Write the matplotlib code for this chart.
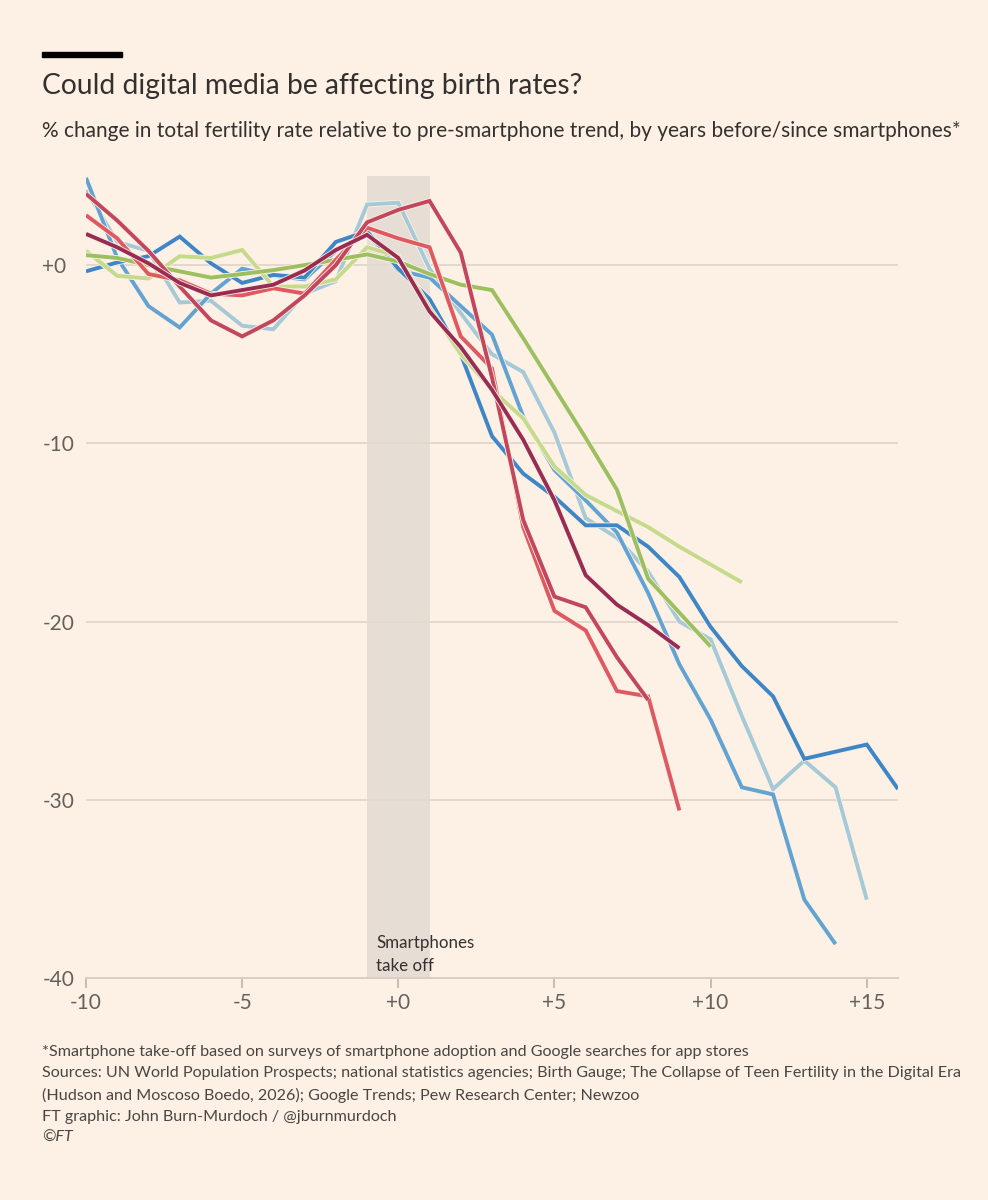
import matplotlib
matplotlib.use("Agg")
import matplotlib.pyplot as plt
import matplotlib.patheffects as pe
from matplotlib.patches import Rectangle

# years before/since smartphone take-off
years = list(range(-10, 17))

# % change in TFR vs pre-smartphone trend
dark_blue = [-0.35, 0.15, 0.5, 1.6, 0.1, -1.0, -0.55, -0.7, 1.3, 1.9, -0.2, -1.9, -5.0, -9.6,
             -11.7, -13.0, -14.6, -14.6, -15.8, -17.5, -20.3, -22.5, -24.2, -27.7, -27.3, -26.9, -29.4]
medium_blue = [4.9, 0.4, -2.3, -3.5, -1.6, -0.2, -0.6, -0.8, 0.8, 1.8, -0.3, -0.7, -2.3, -3.9,
               -8.5, -11.5, -13.2, -15.0, -18.4, -22.4, -25.5, -29.3, -29.7, -35.6, -38.1]
light_blue = [4.2, 1.3, 0.8, -2.1, -2.0, -3.4, -3.6, -1.6, -0.9, 3.4, 3.5, -0.2, -2.7, -5.0,
              -6.0, -9.4, -14.2, -15.3, -17.2, -20.0, -21.0, -25.3, -29.4, -27.8, -29.3, -35.6]
dark_green = [0.56, 0.4, 0.0, -0.35, -0.7, -0.5, -0.28, 0.0, 0.3, 0.6, 0.2, -0.5, -1.1, -1.4,
              -4.1, -6.9, -9.7, -12.6, -17.6, -19.5, -21.4]
light_green = [0.8, -0.6, -0.75, 0.5, 0.4, 0.85, -1.2, -1.2, -0.8, 1.0, 0.5, -2.4, -5.0, -7.0,
               -8.6, -11.3, -12.9, -13.8, -14.7, -15.8, -16.8, -17.8]
coral = [2.8, 1.5, -0.5, -0.85, -1.6, -1.7, -1.3, -1.6, 0.3, 2.1, 1.5, 1.0, -4.0, -5.8,
         -14.7, -19.4, -20.5, -23.9, -24.2, -30.6]
crimson = [4.0, 2.5, 0.8, -1.2, -3.1, -4.0, -3.1, -1.7, 0.0, 2.4, 3.1, 3.6, 0.7, -6.3,
           -14.3, -18.6, -19.2, -22.0, -24.4]
maroon = [1.75, 1.0, 0.1, -1.0, -1.7, -1.4, -1.1, -0.3, 0.85, 1.7, 0.4, -2.6, -4.6, -7.0,
          -9.8, -13.2, -17.4, -19.05, -20.2, -21.5]

series = [
    (light_blue, "#a5c9d6"),
    (medium_blue, "#62a3d2"),
    (dark_blue, "#3f86c7"),
    (light_green, "#c6da8c"),
    (dark_green, "#9cbf5f"),
    (coral, "#df5a60"),
    (crimson, "#c2475c"),
    (maroon, "#992c53"),
]

x_ticks = [-10, -5, 0, 5, 10, 15]
x_tick_labels = ["-10", "-5", "+0", "+5", "+10", "+15"]
y_ticks = [0, -10, -20, -30, -40]
y_tick_labels = ["+0", "-10", "-20", "-30", "-40"]

bg = "#fdf1e6"
text_dark = "#33302e"
text_grey = "#66605c"

plt.rcParams["font.family"] = ["Lato", "DejaVu Sans"]

fig = plt.figure(figsize=(9.88, 12), dpi=100, facecolor=bg)
ax = fig.add_axes([86 / 988, 1 - 978 / 1200, 812 / 988, 802 / 1200])
ax.set_facecolor(bg)

# shaded take-off band
ax.axvspan(-1, 1, color="#e6ddd4", zorder=0, lw=0)

for y in y_ticks[:-1]:
    ax.axhline(y, color="#e2d8ce", lw=1.4, zorder=1)

for vals, col in series:
    ax.plot(years[:len(vals)], vals, color=col, lw=2.8, zorder=3,
            solid_joinstyle="miter", solid_capstyle="butt",
            path_effects=[pe.Stroke(linewidth=4.0, foreground=bg), pe.Normal()])

ax.text(-0.7, -39.75, "Smartphones\ntake off", fontsize=12.2, color=text_dark,
        ha="left", va="bottom", linespacing=1.5, zorder=4)

ax.set_xlim(-10, 16)
ax.set_ylim(-40, 5)

for s in ["top", "right", "left"]:
    ax.spines[s].set_visible(False)
ax.spines["bottom"].set_color("#d8cec5")
ax.spines["bottom"].set_linewidth(1.4)

ax.set_xticks(x_ticks)
ax.set_xticklabels(x_tick_labels)
ax.set_yticks(y_ticks)
ax.set_yticklabels(y_tick_labels, ha="left")
ax.tick_params(axis="x", length=7, width=1.2, color="#bdb3ab", pad=4,
               labelsize=15, labelcolor=text_grey)
ax.tick_params(axis="y", length=0, pad=31.5, labelsize=15, labelcolor=text_grey)

# header
fig.patches.append(Rectangle((42 / 988, 1 - 57 / 1200), 80 / 988, 5 / 1200,
                             transform=fig.transFigure, color="#000000"))
fig.text(42 / 988, 1 - 86 / 1200, "Could digital media be affecting birth rates?",
         fontsize=20.3, color=text_dark, va="center", ha="left")
fig.text(42 / 988, 1 - 131 / 1200,
         "% change in total fertility rate relative to pre-smartphone trend, by years before/since smartphones*",
         fontsize=15.0, color=text_dark, va="center", ha="left")

# footer
notes = [
    "*Smartphone take-off based on surveys of smartphone adoption and Google searches for app stores",
    "Sources: UN World Population Prospects; national statistics agencies; Birth Gauge; The Collapse of Teen Fertility in the Digital Era",
    "(Hudson and Moscoso Boedo, 2026); Google Trends; Pew Research Center; Newzoo",
    "FT graphic: John Burn-Murdoch / @jburnmurdoch",
]
for i, line in enumerate(notes):
    fig.text(42 / 988, 1 - (1052 + i * 21.5) / 1200, line, fontsize=11.6,
             color="#4a4542", va="center", ha="left")
fig.text(42 / 988, 1 - 1138 / 1200, "©FT", fontsize=11.6, color="#4a4542",
         va="center", ha="left", style="italic")

fig.savefig("out.png", dpi=100, facecolor=bg)
